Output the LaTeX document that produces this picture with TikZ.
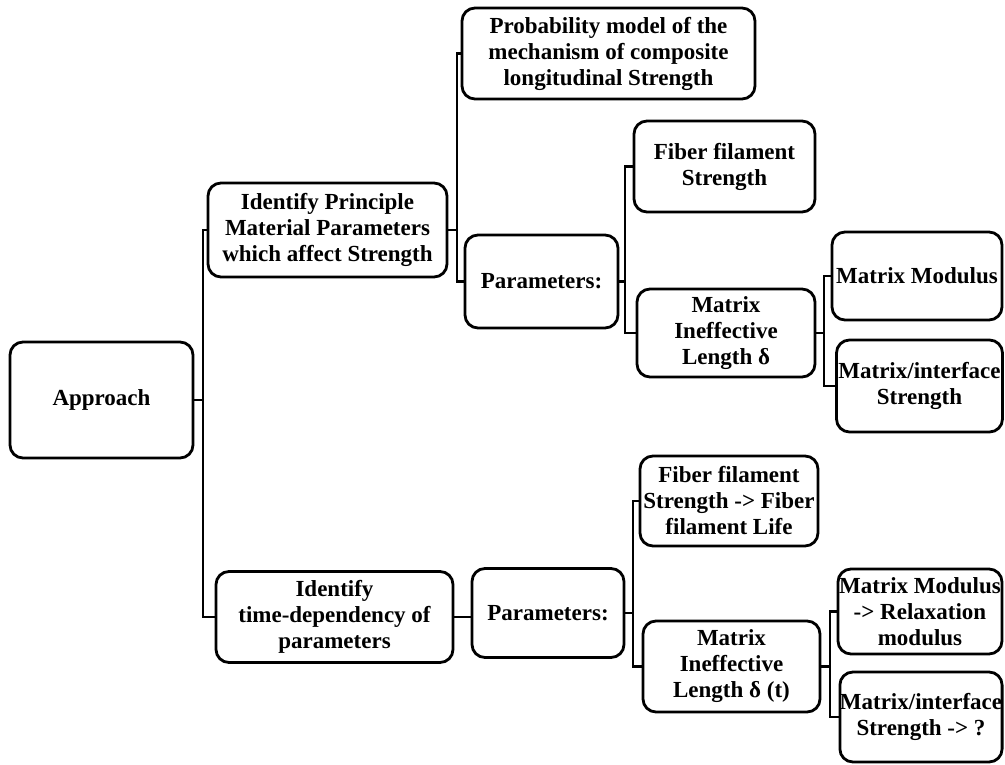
\documentclass[tikz,border=0pt]{standalone}
\usepackage{fontspec}
\setmainfont{Liberation Serif}
\begin{document}
\begin{tikzpicture}[x=1pt,y=-1pt,
  box/.style={draw, line width=2.8pt, rounded corners=13pt, align=center, inner sep=0pt,
    font=\fontsize{23}{26}\selectfont\bfseries},
  conn/.style={line width=2.5pt}]
\useasboundingbox (0,0) rectangle (1005,765);
% boxes
\node[box, minimum width=183pt, minimum height=116pt] (appr) at (101.5,400) {Approach};
\node[box, minimum width=239pt, minimum height=94pt] (id1) at (327.5,230) {Identify Principle\\Material Parameters\\which affect Strength};
\node[box, minimum width=293pt, minimum height=91pt] (prob) at (608.5,53.5) {Probability model of the\\mechanism of composite\\longitudinal Strength};
\node[box, minimum width=153pt, minimum height=93pt] (par1) at (541.5,281.5) {Parameters:};
\node[box, minimum width=181pt, minimum height=91pt] (fib1) at (724.5,166.5) {Fiber filament\\Strength};
\node[box, minimum width=178pt, minimum height=88pt] (mil1) at (726,333) {Matrix\\Ineffective\\Length δ};
\node[box, minimum width=170pt, minimum height=88pt] (mm1) at (917,276) {Matrix Modulus};
\node[box, minimum width=166pt, minimum height=92pt] (mi1) at (919.5,386) {Matrix/interface\\Strength};
\node[box, minimum width=237pt, minimum height=91pt] (id2) at (334.5,617) {Identify\\time-dependency of\\parameters};
\node[box, minimum width=152pt, minimum height=89pt] (par2) at (548,613) {Parameters:};
\node[box, minimum width=178pt, minimum height=90pt] (fib2) at (729,501) {Fiber filament\\Strength -> Fiber\\filament Life};
\node[box, minimum width=177pt, minimum height=91pt] (mil2) at (731.5,666.5) {Matrix\\Ineffective\\Length δ (t)};
\node[box, minimum width=164pt, minimum height=85pt] (mm2) at (920,611.5) {Matrix Modulus\\-> Relaxation\\modulus};
\node[box, minimum width=162pt, minimum height=90pt] (mi2) at (921,717) {Matrix/interface\\Strength -> ?};
% bus points
\coordinate (b0) at (203,400);
\coordinate (b1) at (457,230);
\coordinate (b2) at (625,281.5);
\coordinate (b3) at (824,333);
\coordinate (b4) at (633,613);
\coordinate (b5) at (830,666.5);
% connectors
\draw[conn] (appr.east) -- (b0);
\draw[conn] (id1.west) -| (b0);
\draw[conn] (id2.west) -| (b0);
\draw[conn] (id1.east) -- (b1);
\draw[conn] (prob.west) -| (b1);
\draw[conn] (par1.west) -| (b1);
\draw[conn] (par1.east) -- (b2);
\draw[conn] (fib1.west) -| (b2);
\draw[conn] (mil1.west) -| (b2);
\draw[conn] (mil1.east) -- (b3);
\draw[conn] (mm1.west) -| (b3);
\draw[conn] (mi1.west) -| (b3);
\draw[conn] (id2.east) -- (par2.west |- id2.east);
\draw[conn] (par2.east) -- (b4);
\draw[conn] (fib2.west) -| (b4);
\draw[conn] (mil2.west) -| (b4);
\draw[conn] (mil2.east) -- (b5);
\draw[conn] (mm2.west) -| (b5);
\draw[conn] (mi2.west) -| (b5);
\end{tikzpicture}
\end{document}
